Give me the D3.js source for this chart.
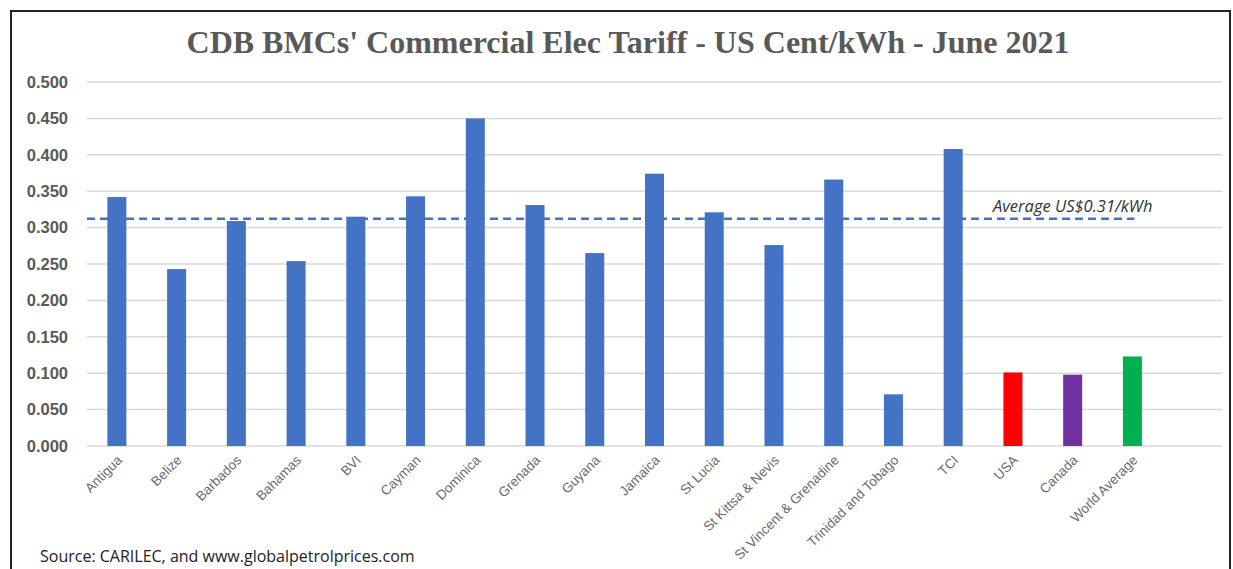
<!DOCTYPE html>
<html>
<head>
<meta charset="utf-8">
<script src="https://cdn.jsdelivr.net/npm/d3@7"></script>
<style>
  body { margin: 0; background: #fff; }
  svg { display: block; }
</style>
</head>
<body>
<svg id="chart" width="1233" height="569"></svg>
<script>
// data
var countries = ['Antigua', 'Belize', 'Barbados', 'Bahamas', 'BVI', 'Cayman', 'Dominica', 'Grenada',
  'Guyana', 'Jamaica', 'St Lucia', 'St Kittsa & Nevis', 'St Vincent & Grenadine', 'Trinidad and Tobago',
  'TCI', 'USA', 'Canada', 'World Average'];
var tariffs = [0.342, 0.243, 0.309, 0.254, 0.315, 0.343, 0.450, 0.331, 0.265, 0.374, 0.321, 0.276,
  0.366, 0.071, 0.408, 0.101, 0.098, 0.123];
var barColors = ['#4472C4', '#4472C4', '#4472C4', '#4472C4', '#4472C4', '#4472C4', '#4472C4', '#4472C4',
  '#4472C4', '#4472C4', '#4472C4', '#4472C4', '#4472C4', '#4472C4', '#4472C4', '#FF0000', '#7030A0', '#00B050'];
var yTicks = [0, 0.05, 0.1, 0.15, 0.2, 0.25, 0.3, 0.35, 0.4, 0.45, 0.5];
var averageValue = 0.312;
var averageLabel = 'Average US$0.31/kWh';

var svg = d3.select('#chart');

// frame
svg.append('rect')
  .attr('x', 11).attr('y', 11)
  .attr('width', 1219).attr('height', 600)
  .attr('fill', 'none')
  .attr('stroke', '#222')
  .attr('stroke-width', 2);

svg.append('text')
  .attr('x', 628).attr('y', 53)
  .attr('text-anchor', 'middle')
  .style('font-family', '"Liberation Serif", "Times New Roman", serif')
  .style('font-weight', 'bold')
  .style('font-size', '32px')
  .style('fill', '#595959')
  .text("CDB BMCs' Commercial Elec Tariff - US Cent/kWh - June 2021");

var plotLeft = 87, plotRight = 1222, plotTop = 82, plotBottom = 446;

// one empty slot at the end, like the source chart
var x = d3.scaleBand()
  .domain(countries.concat(['']))
  .range([plotLeft, plotRight])
  .paddingInner(0.68)
  .paddingOuter(0.34);

var y = d3.scaleLinear().domain([0, 0.5]).range([plotBottom, plotTop]);

// grid
svg.append('g')
  .selectAll('line')
  .data(yTicks)
  .join('line')
  .attr('x1', plotLeft).attr('x2', plotRight)
  .attr('y1', function (d) { return y(d); })
  .attr('y2', function (d) { return y(d); })
  .attr('stroke', '#d9d9d9')
  .attr('stroke-width', 1.5);

// y axis labels
var yAxis = d3.axisLeft(y).tickValues(yTicks).tickFormat(d3.format('.3f')).tickSize(0).tickPadding(19);
var yg = svg.append('g').attr('transform', 'translate(' + plotLeft + ',0)').call(yAxis);
yg.select('.domain').remove();
yg.selectAll('text')
  .style('font-family', '"Liberation Sans", Arial, sans-serif')
  .style('font-weight', 'bold')
  .style('font-size', '16.5px')
  .style('fill', '#595959');

// bars
svg.append('g')
  .selectAll('rect')
  .data(countries)
  .join('rect')
  .attr('x', function (d) { return x(d) + x.bandwidth() / 2 - 9.5; })
  .attr('width', 19)
  .attr('y', function (d, i) { return y(tariffs[i]); })
  .attr('height', function (d, i) { return y(0) - y(tariffs[i]); })
  .attr('fill', function (d, i) { return barColors[i]; });

// x labels
var xAxis = d3.axisBottom(x).tickValues(countries).tickSize(0).tickPadding(0);
var xg = svg.append('g').attr('transform', 'translate(0,' + plotBottom + ')').call(xAxis);
xg.select('.domain').remove();
xg.selectAll('text')
  .attr('text-anchor', 'end')
  .attr('dy', null)
  .attr('transform', 'translate(6,15) rotate(-45)')
  .style('font-family', '"Liberation Sans", Arial, sans-serif')
  .style('font-size', '13.5px')
  .style('fill', '#6a6a6a');

// average line
svg.append('line')
  .attr('x1', plotLeft)
  .attr('x2', x('World Average') + x.bandwidth() / 2 + 2)
  .attr('y1', y(averageValue)).attr('y2', y(averageValue))
  .attr('stroke', '#4472C4')
  .attr('stroke-width', 2.5)
  .attr('stroke-dasharray', '8,5');

svg.append('text')
  .attr('x', 993).attr('y', y(averageValue) - 7)
  .style('font-family', '"Open Sans", "Liberation Sans", sans-serif')
  .style('font-style', 'italic')
  .style('font-size', '16.5px')
  .style('fill', '#333')
  .text(averageLabel);

svg.append('text')
  .attr('x', 40).attr('y', 562)
  .style('font-family', '"Open Sans", "Liberation Sans", sans-serif')
  .style('font-size', '16px')
  .style('fill', '#222')
  .text('Source: CARILEC, and www.globalpetrolprices.com');
</script>
</body>
</html>
